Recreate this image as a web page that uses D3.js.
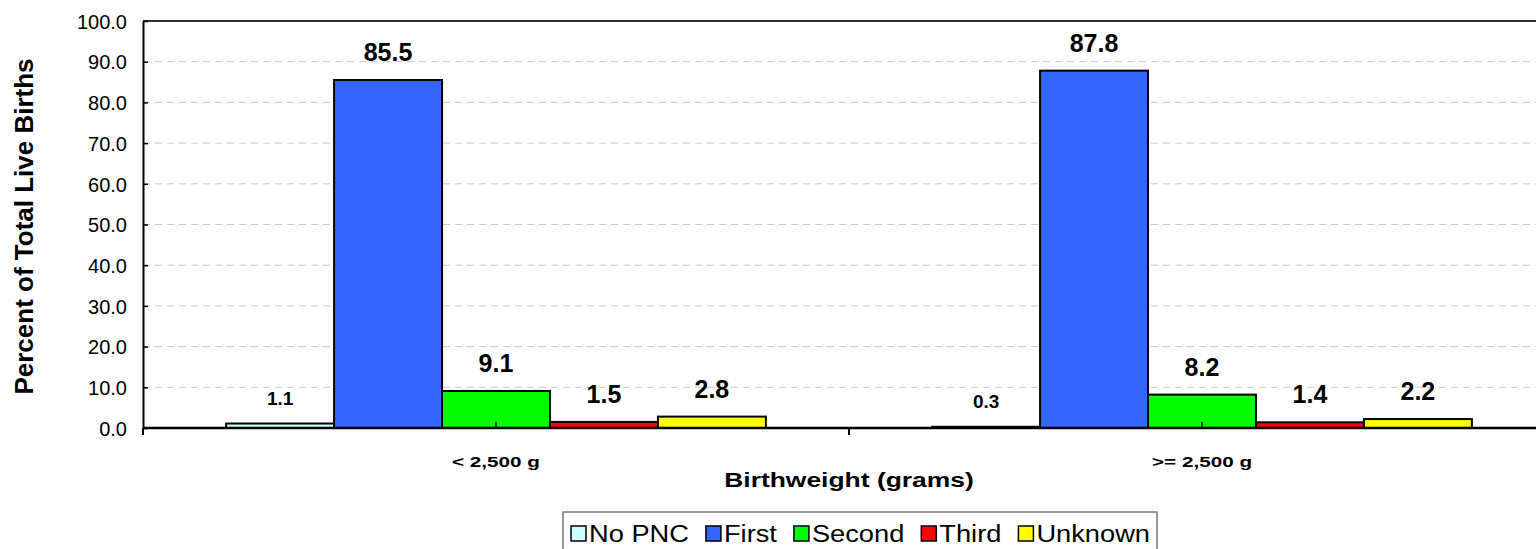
<!DOCTYPE html>
<html>
<head>
<meta charset="utf-8">
<script src="https://cdn.jsdelivr.net/npm/d3@7/dist/d3.min.js"></script>
<style>
	body { margin: 0; background: #fff; }
	svg { display: block; font-family: Arial, "Liberation Sans", sans-serif; }
</style>
</head>
<body>
<svg id="chart" width="1536" height="549"></svg>
<script>
// chart data
var categories = ["< 2,500 g", ">= 2,500 g"];
var series = ["No PNC", "First", "Second", "Third", "Unknown"];
var noPnc = [1.1, 0.3];
var first = [85.5, 87.8];
var second = [9.1, 8.2];
var third = [1.5, 1.4];
var unknown = [2.8, 2.2];
var yTicks = [0, 10, 20, 30, 40, 50, 60, 70, 80, 90, 100];
var colors = ["#ccffff", "#3366ff", "#00ff00", "#ff0000", "#ffff00"];

var values = [noPnc, first, second, third, unknown];
var rows = [];
series.forEach(function(s, i) {
	categories.forEach(function(c, j) {
		rows.push({ series: s, cat: c, value: values[i][j], color: colors[i] });
	});
});

var m = { l: 143, r: 1555, t: 21, b: 428 };
var svg = d3.select("#chart");

var x0 = d3.scaleBand().domain(categories).range([m.l, m.r]);
var x1 = d3.scaleBand().domain(series).range([0, x0.bandwidth()]).paddingOuter(0.77);
var y = d3.scaleLinear().domain([0, 100]).range([m.b, m.t]);

// gridlines
svg.append("g").selectAll("line")
	.data(yTicks.filter(function(d) { return d > 0 && d < 100; }))
	.enter()
	.append("line")
		.attr("x1", m.l).attr("x2", m.r)
		.attr("y1", function(d) { return y(d); })
		.attr("y2", function(d) { return y(d); })
		.style("stroke", "#c8c8c8")
		.style("stroke-dasharray", "7,5");

// top border of plot area
svg.append("line")
	.attr("x1", m.l).attr("x2", m.r)
	.attr("y1", y(100)).attr("y2", y(100))
	.style("stroke", "#333")
	.style("stroke-width", 2);

// bars
svg.append("g").selectAll("rect")
	.data(rows)
	.enter()
	.append("rect")
		.attr("x", function(d) { return x0(d.cat) + x1(d.series); })
		.attr("y", function(d) { return y(d.value); })
		.attr("width", x1.bandwidth())
		.attr("height", function(d) { return y(0) - y(d.value); })
		.style("fill", function(d) { return d.color; })
		.style("stroke", "#000")
		.style("stroke-width", 2);

// value labels
svg.append("g").selectAll("text")
	.data(rows)
	.enter()
	.append("text")
		.attr("x", function(d) { return x0(d.cat) + x1(d.series) + x1.bandwidth() / 2; })
		.attr("y", function(d) { return y(d.value) - 19; })
		.attr("text-anchor", "middle")
		.style("font-weight", "bold")
		.style("font-size", function(d) { return d.series == "No PNC" ? "19px" : "25px"; })
		.text(function(d) { return d3.format(".1f")(d.value); });

// y axis
var yAxis = svg.append("g")
	.attr("transform", "translate(" + m.l + ",0)")
	.call(d3.axisLeft(y)
		.tickValues(yTicks)
		.tickFormat(d3.format(".1f"))
		.tickSizeInner(-5)
		.tickSizeOuter(0)
		.tickPadding(16));
yAxis.select(".domain").style("stroke", "#000").style("stroke-width", 2);
yAxis.selectAll(".tick line").style("stroke", "#000").style("stroke-width", 1.5);
yAxis.selectAll("text")
	.style("font-size", "20px")
	.style("font-family", "Arial, 'Liberation Sans', sans-serif")
	.style("fill", "#000")
	.attr("dy", "0.36em");

// x axis line and ticks
svg.append("line")
	.attr("x1", m.l).attr("x2", m.r)
	.attr("y1", y(0)).attr("y2", y(0))
	.style("stroke", "#000")
	.style("stroke-width", 2.5);

var edges = categories.map(function(c) { return x0(c); }).concat([m.r]);
svg.append("g").selectAll("line")
	.data(edges)
	.enter()
	.append("line")
		.attr("x1", function(d) { return d; }).attr("x2", function(d) { return d; })
		.attr("y1", y(0)).attr("y2", y(0) + 7)
		.style("stroke", "#000")
		.style("stroke-width", 2);

svg.append("g").selectAll("line")
	.data(categories)
	.enter()
	.append("line")
		.attr("x1", function(d) { return x0(d) + x0.bandwidth() / 2; })
		.attr("x2", function(d) { return x0(d) + x0.bandwidth() / 2; })
		.attr("y1", y(0)).attr("y2", y(0) - 6)
		.style("stroke", "#000")
		.style("stroke-width", 1.5);

// category labels
svg.append("g").selectAll("text")
	.data(categories)
	.enter()
	.append("text")
		.attr("transform", function(d) {
			return "translate(" + (x0(d) + x0.bandwidth() / 2) + ",467) scale(1.38,1)";
		})
		.attr("text-anchor", "middle")
		.style("font-weight", "bold")
		.style("font-size", "15px")
		.text(function(d) { return d; });

// axis titles
svg.append("text")
	.attr("transform", "translate(33," + ((m.t + m.b) / 2 + 2) + ") rotate(-90)")
	.attr("text-anchor", "middle")
	.style("font-weight", "bold")
	.style("font-size", "26px")
	.text("Percent of Total Live Births");

svg.append("text")
	.attr("transform", "translate(" + ((m.l + m.r) / 2) + ",487) scale(1.29,1)")
	.attr("text-anchor", "middle")
	.style("font-weight", "bold")
	.style("font-size", "20.5px")
	.text("Birthweight (grams)");

// legend
var legend = svg.append("g");
var box = legend.append("rect")
	.attr("x", 563).attr("y", 512)
	.attr("height", 44)
	.style("fill", "#fff")
	.style("stroke", "#777")
	.style("stroke-width", 1.5);

var lx = 571;
series.forEach(function(s, i) {
	legend.append("rect")
		.attr("x", lx).attr("y", 526)
		.attr("width", 15).attr("height", 15)
		.style("fill", colors[i])
		.style("stroke", "#000")
		.style("stroke-width", 1.5);
	var t = legend.append("text")
		.attr("transform", "translate(" + (lx + 18) + ",541.5) scale(1.16,1)")
		.style("font-size", "23.5px")
		.text(s);
	var w = t.node().getComputedTextLength() * 1.16;
	lx = lx + 18 + w + 17;
});
box.attr("width", lx - 17 + 7 - 563);
</script>
</body>
</html>
